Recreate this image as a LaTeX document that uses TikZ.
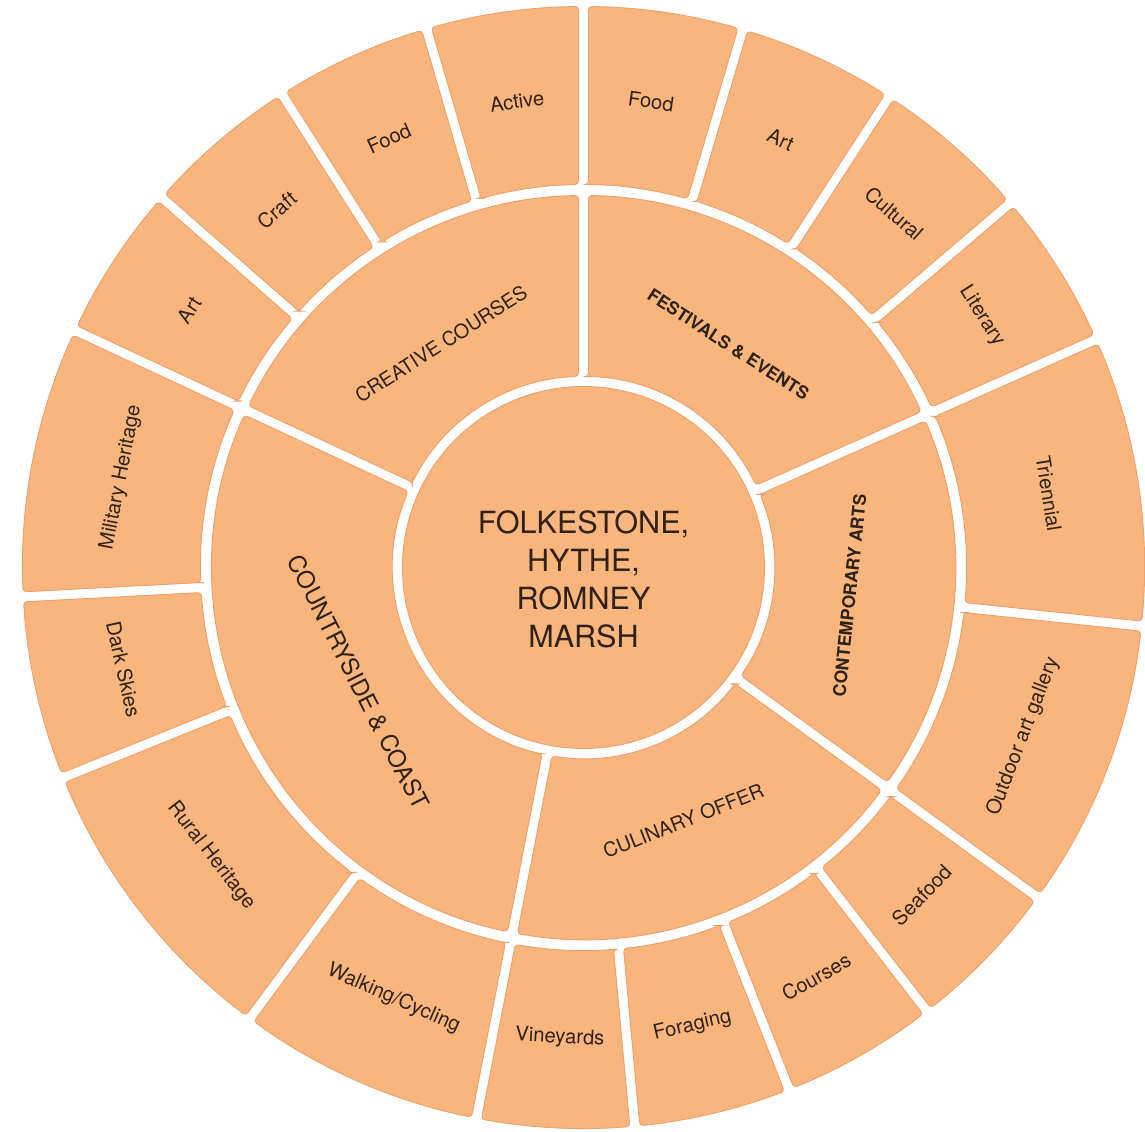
\documentclass[tikz,border=0pt]{standalone}
\usepackage{fontspec}
\setmainfont{TeX Gyre Heros}

\definecolor{petal}{RGB}{249,181,126}
\definecolor{petaledge}{RGB}{236,160,106}
\definecolor{ink}{RGB}{48,34,24}

% half of the white gap between two pieces
\def\gap{0.1}

% one piece of a ring: start angle, end angle, inner radius, outer radius
\newcommand{\ringpart}[4]{%
  \pgfmathsetmacro{\dinner}{asin(\gap/#3)}%
  \pgfmathsetmacro{\douter}{asin(\gap/#4)}%
  \draw[segment] (#1-\dinner:#3) -- (#1-\douter:#4)
    arc[start angle=#1-\douter, end angle=#2+\douter, radius=#4]
    -- (#2+\dinner:#3)
    arc[start angle=#2+\dinner, end angle=#1-\dinner, radius=#3] -- cycle;
}

\begin{document}
\begin{tikzpicture}

        % Styles
        \tikzstyle{segment} = [fill=petal, draw=petaledge, line width=0.5pt, rounded corners=2pt]
        \tikzstyle{outerlabel} = [text=ink, font=\fontsize{11.5}{13}\selectfont]
        \tikzstyle{innerlabel} = [text=ink, font=\fontsize{11.2}{13}\selectfont]
        \tikzstyle{boldlabel} = [text=ink, font=\bfseries\fontsize{10}{12}\selectfont]
        \tikzstyle{biglabel} = [text=ink, font=\fontsize{13.6}{16}\selectfont]
        \tikzstyle{hub} = [text=ink, align=center, font=\fontsize{17.4}{21.6}\selectfont]

        \useasboundingbox (-11.67,-11.27) rectangle (11.23,11.35);

        % Centre
        \draw[segment] (0,0) circle (3.62);
        \node[hub] (hub) at (0,-0.24) {FOLKESTONE,\\HYTHE,\\ROMNEY\\MARSH};

        % Inner ring
        \foreach \sa/\sb in {155/90, 90/24, 24/-36, -36/-101, 259/155}
            \ringpart{\sa}{\sb}{3.82}{7.44};

        \node[innerlabel, rotate=32.5] (creative) at (122.5:5.3) {CREATIVE COURSES};
        \node[boldlabel, rotate=-33] (festivals) at (57:5.32) {FESTIVALS \& EVENTS};
        \node[boldlabel, rotate=84] (contemporary) at (-6:5.35) {CONTEMPORARY ARTS};
        \node[innerlabel, rotate=21.5] (culinary) at (-68.5:5.45) {CULINARY OFFER};
        \node[biglabel, rotate=-63] (countryside) at (207:5.05) {COUNTRYSIDE \& COAST};

        % Outer ring
        \foreach \sa/\sb/\txt [count=\i] in {
                90/73.5/Food, 73.5/57/Art, 57/40.5/Cultural, 40.5/24/Literary,
                24/-6/Triennial, -6/-36/Outdoor art gallery,
                -36/-52.25/Seafood, -52.25/-68.5/Courses, -68.5/-84.75/Foraging, -84.75/-101/Vineyards,
                259/233.5/{Walking/Cycling}, 233.5/202/Rural Heritage, 202/183/Dark Skies, 183/155/Military Heritage,
                155/138.75/Art, 138.75/122.5/Craft, 122.5/106.25/Food, 106.25/90/Active} {
            \ringpart{\sa}{\sb}{7.66}{11.22}
            \pgfmathsetmacro{\midang}{(\sa+\sb)/2}
            \pgfmathsetmacro{\rot}{mod(\midang+720,180)-90}
            \node[outerlabel, rotate=\rot] (leaf-\i) at (\midang:9.42) {\txt};
        }

\end{tikzpicture}
\end{document}
